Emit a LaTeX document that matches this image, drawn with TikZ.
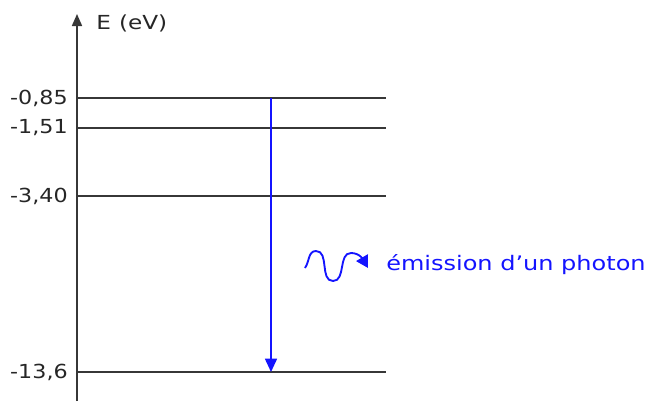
\documentclass[tikz,border=0pt]{standalone}
\usepackage{fontspec}
\setmainfont{DejaVu Sans}
\usetikzlibrary{arrows.meta}
\definecolor{lvl}{RGB}{55,55,55}
\definecolor{phot}{RGB}{20,20,255}
\tikzset{
  level/.style={draw=lvl, line width=1.5pt},
  axisline/.style={draw=lvl, line width=1.3pt, -{Triangle[length=9pt,width=7.5pt]}},
  lab/.style={inner sep=0pt, font=\fontsize{14.5}{16}\selectfont, text=black!85},
  trans/.style={draw=phot, line width=1.2pt, -{Triangle[length=10pt,width=9pt]}},
  wave/.style={draw=phot, line width=1.4pt, -{Triangle[length=9pt,width=10pt]}},
  phottext/.style={inner sep=0pt, font=\fontsize{15}{17}\selectfont, text=phot}
}
\newcommand{\widetxt}[1]{\scalebox{1.15}[1]{#1}}
\newcommand{\widertxt}[1]{\scalebox{1.2}[1]{#1}}
\begin{document}
\begin{tikzpicture}[x=0.75pt,y=0.75pt]
\useasboundingbox (0,0) rectangle (648,401);
% axis
\coordinate (ax0) at (77,0);
\coordinate (ax1) at (77,387);
\draw[axisline] (ax0) -- (ax1);
\node[lab, anchor=west] (E) at (96,378) {\widertxt{E\hspace{0.35em}(eV)}};
% levels
\coordinate (l1a) at (77,303); \coordinate (l1b) at (386,303);
\coordinate (l2a) at (77,273); \coordinate (l2b) at (386,273);
\coordinate (l3a) at (77,205); \coordinate (l3b) at (386,205);
\coordinate (l4a) at (77,29);  \coordinate (l4b) at (386,29);
\draw[level] (l1a) -- (l1b);
\draw[level] (l2a) -- (l2b);
\draw[level] (l3a) -- (l3b);
\draw[level] (l4a) -- (l4b);
\node[lab, anchor=east] (n1) at (68,303) {\widetxt{-0,85}};
\node[lab, anchor=east] (n2) at (68,273) {\widetxt{-1,51}};
\node[lab, anchor=east] (n3) at (68,205) {\widetxt{-3,40}};
\node[lab, anchor=east] (n4) at (68,29) {\widetxt{-13,6}};
% transition
\coordinate (t0) at (271,303);
\coordinate (t1) at (271,29);
\draw[trans] (t0) -- (t1);
% photon
\coordinate (w0) at (305,133);
\coordinate (w1) at (316,150);
\coordinate (w2) at (333,120);
\coordinate (w3) at (351,148);
\coordinate (w4) at (368,133);
\draw[wave] (w0) to[out=55,in=180] (w1) to[out=0,in=180] (w2) to[out=0,in=180] (w3) to[out=0,in=120] (w4);
\node[phottext, anchor=west] (ph) at (386,136) {\widertxt{émission d’un photon}};
\end{tikzpicture}
\end{document}
